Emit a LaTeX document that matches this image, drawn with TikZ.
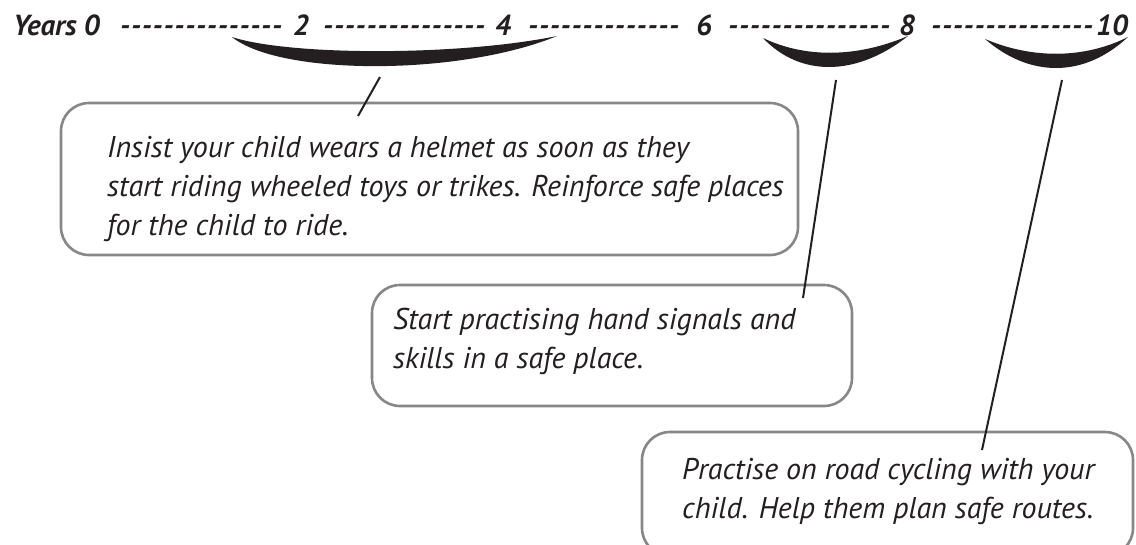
\documentclass[tikz,border=0pt]{standalone}
\usepackage{fontspec}
\setmainfont{PT Sans}
\usetikzlibrary{calc}
\definecolor{ink}{RGB}{35,31,32}
\definecolor{boxgray}{RGB}{135,135,135}
\newcommand\hyk{-\kern0.9pt}
\tikzset{
  hdr/.style={inner sep=0pt, anchor=base west, text=ink, font=\fontsize{29}{34}\selectfont\bfseries\itshape},
  box/.style={draw=boxgray, line width=2.6pt, rounded corners=28pt, inner sep=0pt},
  txt/.style={inner sep=0pt, anchor=base west, text=ink, align=left, font=\fontsize{30}{39}\selectfont\itshape},
  brace/.style={fill=ink, draw=none},
  conn/.style={draw=ink, line width=2pt},
}
\begin{document}
\begin{tikzpicture}[x=1pt,y=-1pt]
\clip (0,0) rectangle (1136,544);
\fill[white] (0,0) rectangle (1136,544);
% header
\node[hdr] (y0) at (13,35) {Years 0};
\node[hdr] (d1) at (120,35) {\hyk\hyk\hyk\hyk\hyk\hyk\hyk\hyk\hyk\hyk\hyk\hyk\hyk\hyk-};
\node[hdr] (n2) at (293,35) {2};
\node[hdr] (d2) at (323,35) {\hyk\hyk\hyk\hyk\hyk\hyk\hyk\hyk\hyk\hyk\hyk\hyk\hyk\hyk-};
\node[hdr] (n4) at (495,35) {4};
\node[hdr] (d3) at (528,35) {\hyk\hyk\hyk\hyk\hyk\hyk\hyk\hyk\hyk\hyk\hyk\hyk\hyk-};
\node[hdr] (n6) at (696,35) {6};
\node[hdr] (d4) at (728,35) {\hyk\hyk\hyk\hyk\hyk\hyk\hyk\hyk\hyk\hyk\hyk\hyk\hyk\hyk-};
\node[hdr] (n8) at (899,35) {8};
\node[hdr] (d5) at (931,35) {\hyk\hyk\hyk\hyk\hyk\hyk\hyk\hyk\hyk\hyk\hyk\hyk\hyk\hyk-};
\node[hdr] (n10) at (1096,35) {10};
% braces
\path[brace] (232,37) .. controls (280,76) and (460,76) .. (557,36)
  .. controls (460,56) and (290,56) .. (232,37) -- cycle;
\path[brace] (763,38) .. controls (800,77) and (856,77) .. (908,36)
  .. controls (856,58) and (805,58) .. (763,38) -- cycle;
\path[brace] (985,39) .. controls (1030,78) and (1084,78) .. (1128,37)
  .. controls (1084,59) and (1032,59) .. (985,39) -- cycle;
% boxes
\node[box, minimum width=737pt, minimum height=152pt] (b1) at (429.5,179) {};
\node[box, minimum width=480pt, minimum height=121pt] (b2) at (612,345.5) {};
\node[box, minimum width=491pt, minimum height=124pt] (b3) at (887.5,494) {};
% texts (base anchor = baseline of last line)
\node[txt] (t1) at (107,235) {Insist your child wears a helmet as soon as they\\start riding wheeled toys or trikes. Reinforce safe places\\for the child to ride.};
\node[txt] (t2) at (393,368) {Start practising hand signals and\\skills in a safe place.};
\node[txt] (t3) at (682,518) {Practise on road cycling with your\\child. Help them plan safe routes.};
% connectors
\coordinate (c1a) at (380,77); \coordinate (c1b) at (358,116);
\coordinate (c2a) at (836,80); \coordinate (c2b) at (803,298);
\coordinate (c3a) at (1062,80); \coordinate (c3b) at (982,450);
\draw[conn] (c1a) -- (c1b);
\draw[conn] (c2a) -- (c2b);
\draw[conn] (c3a) -- (c3b);
\end{tikzpicture}
\end{document}
